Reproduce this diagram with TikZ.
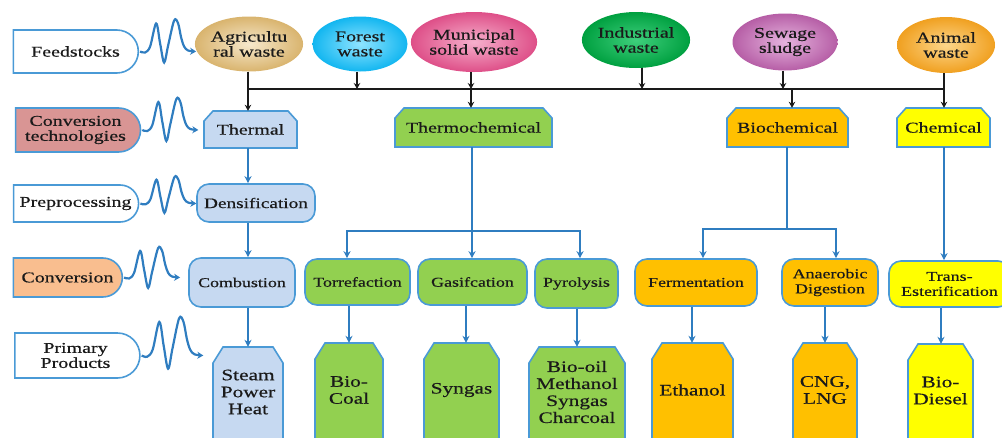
\documentclass[tikz,border=0pt]{standalone}
\usepackage{fontspec}
\setmainfont{Liberation Serif}[FakeStretch=1.33,FakeBold=0.5]
\usetikzlibrary{arrows.meta,shapes.geometric,shapes.misc,calc}
\definecolor{bord}{HTML}{4A9AD6}
\definecolor{conn}{HTML}{2F7DC0}
\definecolor{txtc}{HTML}{1A1A1A}
\definecolor{blueF}{HTML}{C6D9F1}
\definecolor{greenF}{HTML}{92D050}
\definecolor{orangeF}{HTML}{FFC000}
\definecolor{yellowF}{HTML}{FFFF00}
\definecolor{roseF}{HTML}{D99594}
\definecolor{peachF}{HTML}{F9BE8F}
\definecolor{agriI}{HTML}{F6E8CC}\definecolor{agriO}{HTML}{D9B46E}
\definecolor{forI}{HTML}{8FE4FF}\definecolor{forO}{HTML}{12B6F0}
\definecolor{munI}{HTML}{F6B0CC}\definecolor{munO}{HTML}{DE4F88}
\definecolor{indI}{HTML}{3ECF7C}\definecolor{indO}{HTML}{00A040}
\definecolor{sewI}{HTML}{E6B4DE}\definecolor{sewO}{HTML}{B65EA6}
\definecolor{aniI}{HTML}{FDD68A}\definecolor{aniO}{HTML}{F0A020}
\newcommand\fsz[2]{\fontsize{#1}{#2}\selectfont}
\newcommand\catbox[7]{% name x1 y1 x2 y2 fill text
  \filldraw[boxline, fill=#6] (#2,#5) -- (#2,#3+10) -- (#2+9,#3) -- (#4-9,#3) -- (#4,#3+10) -- (#4,#5) -- cycle;
  \node[catlbl, minimum width={(#4-#2)*1pt}, minimum height={(#5-#3)*1pt}] (#1) at ({(#2+#4)/2},{(#3+#5)/2}) {#7};
}
\newcommand\prodbox[6]{% name x1 y1 x2 fill text
  \filldraw[boxline, fill=#5] (#2,447) -- (#2,#3+16) -- (#2+10,#3) -- (#4-10,#3) -- (#4,#3+16) -- (#4,447);
  \node[prodlbl, minimum width={(#4-#2)*1pt}, minimum height={(437-#3)*1pt}] (#1) at ({(#2+#4)/2},{(#3+437)/2}) {#6};
}
\begin{document}
\begin{tikzpicture}[x=1pt,y=-1pt,
  tab/.style={rounded rectangle, rounded rectangle left arc=none, draw=bord, line width=1.6pt, inner sep=0pt, align=center, font=\fsz{15}{15}, text=txtc},
  ell/.style={ellipse, inner sep=0pt, align=center, font=\fsz{15}{15}, text=txtc},
  rbox/.style={rectangle, rounded corners=12pt, draw=bord, line width=1.6pt, inner sep=0pt, align=center, font=\fsz{13.5}{15}, text=txtc},
  boxline/.style={draw=bord, line width=1.6pt},
  catlbl/.style={rectangle, inner sep=0pt, align=center, font=\fsz{15}{15}, text=txtc},
  prodlbl/.style={rectangle, inner sep=0pt, align=center, font=\fsz{16}{17}, text=txtc},
  blk/.style={line width=2pt, draw=txtc, -{Stealth[length=6pt,width=6.5pt]}},
  bln/.style={line width=2pt, draw=txtc},
  bl/.style={line width=2pt, draw=conn, -{Stealth[length=7pt,width=7pt]}},
  bll/.style={line width=2pt, draw=conn},
  sq/.style={line width=2.2pt, draw=conn, -{Stealth[length=6pt,width=7pt]}},
  pics/wave/.style={code={\draw[sq] plot[smooth,tension=0.55] coordinates {(0,0) (5,1) (10,-5) (16,-28) (20,-8) (24,11) (28,-6) (34,-31) (38,-28) (41,-14) (44,-5) (48,-1) (56,0)};}},
]
\useasboundingbox (0,0) rectangle (1002,437);
\clip (0,0) rectangle (1002,437);

% left tabs
\node[tab, fill=white, minimum width=125pt, minimum height=43pt] (feed) at (75.5,51.5) {Feedstocks};
\node[tab, fill=roseF, minimum width=125pt, minimum height=44pt] (ctech) at (75.5,130) {Conversion\\technologies};
\node[tab, fill=white, minimum width=125pt, minimum height=37pt] (prep) at (75.5,203.5) {Preprocessing};
\node[tab, fill=peachF, minimum width=109pt, minimum height=39pt] (conv) at (67.5,277.5) {Conversion};
\node[tab, fill=white, minimum width=125pt, minimum height=45pt] (prim) at (75.5,355.5) {Primary\\Products};

\pic at ([xshift=1pt]feed.east) {wave};
\pic at ([xshift=1pt]ctech.east) {wave};
\pic[yscale=0.85] at ([xshift=1pt]prep.east) {wave};
\pic[yscale=0.95] at ([xshift=1pt]conv.east) {wave};
\pic[xscale=1.1,yscale=1.2] at ([xshift=1pt]prim.east) {wave};

% feedstock ellipses
\node[ell, minimum width=92pt, minimum height=55pt, inner color=agriI, outer color=agriO] (agri) at (249,44) {Agricultu\\ral waste};
\node[ell, minimum width=95pt, minimum height=55pt, inner color=forI, outer color=forO] (forest) at (360,44) {Forest\\waste};
\node[ell, minimum width=102pt, minimum height=60pt, inner color=munI, outer color=munO] (muni) at (474,42) {Municipal\\solid waste};
\node[ell, minimum width=108pt, minimum height=56pt, inner color=indI, outer color=indO] (indus) at (636,40) {Industrial\\waste};
\node[ell, minimum width=105pt, minimum height=57pt, inner color=sewI, outer color=sewO] (sewage) at (785,42) {Sewage\\sludge};
\node[ell, minimum width=98pt, minimum height=56pt, inner color=aniI, outer color=aniO] (animal) at (946,45) {Animal\\waste};

% conversion technologies
\catbox{thermal}{204}{111}{297}{148}{blueF}{Thermal}
\catbox{tchem}{395}{108}{552}{147}{greenF}{Thermochemical}
\catbox{bio}{727}{108}{848}{147}{orangeF}{Biochemical}
\catbox{chem}{897}{108}{990}{147}{yellowF}{Chemical}

% preprocessing / conversion
\node[rbox, fill=blueF, minimum width=118pt, minimum height=38pt, font=\fsz{14.5}{15}] (dens) at (256,203) {Densification};
\node[rbox, fill=blueF, minimum width=106pt, minimum height=49pt] (comb) at (242,282.5) {Combustion};
\node[rbox, fill=greenF, minimum width=105pt, minimum height=46pt] (torr) at (357.5,282) {Torrefaction};
\node[rbox, fill=greenF, minimum width=109pt, minimum height=46pt] (gas) at (472.5,282) {Gasifcation};
\node[rbox, fill=greenF, minimum width=83pt, minimum height=49pt] (pyro) at (576.5,283.5) {Pyrolysis};
\node[rbox, fill=orangeF, minimum width=122pt, minimum height=47pt] (ferm) at (696,282.5) {Fermentation};
\node[rbox, fill=orangeF, minimum width=96pt, minimum height=47pt] (anae) at (830,282.5) {Anaerobic\\Digestion};
\node[rbox, fill=yellowF, minimum width=121pt, minimum height=46pt] (trans) at (949.5,284) {Trans-\\Esterification};

% products
\prodbox{steam}{213}{347}{283}{blueF}{Steam\\Power\\Heat}
\prodbox{biocoal}{315}{343}{383}{greenF}{Bio-\\Coal}
\prodbox{syngas}{424}{343}{499}{greenF}{Syngas}
\prodbox{biooil}{529}{347}{625}{greenF}{Bio-oil\\Methanol\\Syngas\\Charcoal}
\prodbox{ethanol}{652}{343}{733}{orangeF}{Ethanol}
\prodbox{cng}{793}{343}{857}{orangeF}{CNG,\\LNG}
\prodbox{biodiesel}{908}{344}{973}{yellowF}{Bio-\\Diesel}

% column positions
\coordinate (xa) at (248,0);
\coordinate (xf) at (357,0);
\coordinate (xm) at (471,0);
\coordinate (xi) at (642,0);
\coordinate (xs) at (783,0);
\coordinate (xb) at (792,0);
\coordinate (xc) at (944,0);

% black feedstock bus
\coordinate (busL) at (248,89);
\coordinate (busR) at (944,89);
\draw[bln] (busL) -- (busR);
\draw[blk] (agri.south -| xa) -- (thermal.north -| xa);
\draw[blk] (forest.south -| xf) -- (busL -| xf);
\draw[blk] (muni.south -| xm) -- (busL -| xm);
\draw[blk] (busL -| xm) -- (tchem.north -| xm);
\draw[blk] (indus.south -| xi) -- (busL -| xi);
\draw[blk] (sewage.south -| xs) -- (busL -| xs);
\draw[blk] (busL -| xb) -- (bio.north -| xb);
\draw[blk] (animal.south -| xc) -- (chem.north -| xc);

% thermal chain
\draw[bl] (thermal.south -| xa) -- (dens.north -| xa);
\draw[bl] (dens.south -| xa) -- (comb.north -| xa);
\draw[bl] (comb.south -| xa) -- (steam.north -| xa);

% thermochemical tree
\coordinate (th) at (472,231);
\coordinate (tL) at (347,231);
\coordinate (tR) at (580,231);
\draw[bl] (tchem.south -| th) -- (gas.north -| th);
\draw[bl] (th) -- (tL) -- (torr.north -| tL);
\draw[bl] (th) -- (tR) -- (pyro.north -| tR);

% biochemical tree
\coordinate (bh) at (787,229);
\coordinate (bL) at (703,229);
\coordinate (bR) at (836,229);
\draw[bll] (bio.south -| bh) -- (bh);
\draw[bl] (bh) -- (bL) -- (ferm.north -| bL);
\draw[bl] (bh) -- (bR) -- (anae.north -| bR);

% chemical
\draw[bl] (chem.south -| xc) -- (trans.north -| xc);

% conversion to products
\coordinate (p1) at (349,0);
\coordinate (p2) at (466,0);
\coordinate (p3) at (577,0);
\coordinate (p4) at (692,0);
\coordinate (p5) at (825,0);
\coordinate (p6) at (941,0);
\draw[bl] (torr.south -| p1) -- (biocoal.north -| p1);
\draw[bl] (gas.south -| p2) -- (syngas.north -| p2);
\draw[bl] (pyro.south -| p3) -- (biooil.north -| p3);
\draw[bl] (ferm.south -| p4) -- (ethanol.north -| p4);
\draw[bl] (anae.south -| p5) -- (cng.north -| p5);
\draw[bl] (trans.south -| p6) -- (biodiesel.north -| p6);
\end{tikzpicture}
\end{document}
